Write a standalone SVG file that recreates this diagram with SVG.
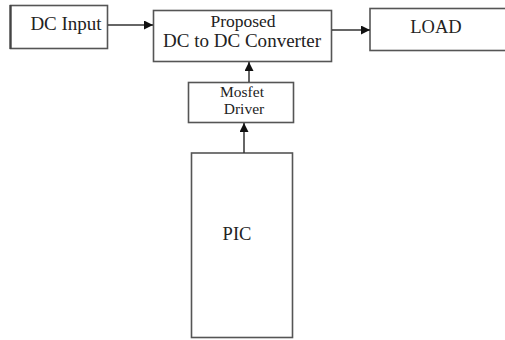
<svg xmlns="http://www.w3.org/2000/svg" width="505" height="340" viewBox="0 0 505 340">
<style>
.box{fill:#fff;stroke:#555;stroke-width:1.6}
.t{font-family:"Liberation Serif","Times New Roman",serif;fill:#222;text-anchor:middle}
.c{stroke:#333;stroke-width:1.5;fill:none}
</style>
<defs>
<marker id="ah" viewBox="0 0 10 10" refX="10" refY="5" markerWidth="9" markerHeight="9" markerUnits="userSpaceOnUse" orient="auto">
<path d="M0,0 L10,5 L0,10 z" fill="#111"/>
</marker>
</defs>
<rect width="505" height="340" fill="#fff"/>
<g id="dc-input">
<rect class="box" x="10.5" y="5.5" width="97" height="43"/>
<line x1="10.5" y1="5" x2="10.5" y2="49" stroke="#444" stroke-width="2.2"/>
<text class="t" x="66" y="30" font-size="19">DC Input</text>
</g>
<g id="converter">
<rect class="box" x="153.5" y="10.5" width="178" height="51"/>
<text class="t" x="243" y="27" font-size="17.5">Proposed</text>
<text class="t" x="242" y="47" font-size="18" textLength="158" lengthAdjust="spacingAndGlyphs">DC to DC Converter</text>
</g>
<g id="load">
<rect class="box" x="370" y="8.5" width="140" height="42"/>
<text class="t" x="436" y="33" font-size="18.5">LOAD</text>
</g>
<g id="mosfet-driver">
<rect class="box" x="188.5" y="82.5" width="105" height="40"/>
<text class="t" x="242" y="97" font-size="15.5">Mosfet</text>
<text class="t" x="244" y="114" font-size="15.5">Driver</text>
</g>
<g id="pic">
<rect class="box" x="191.5" y="153" width="101" height="184.5"/>
<text class="t" x="237" y="240" font-size="18.5">PIC</text>
</g>
<g id="connectors">
<line class="c" x1="108" y1="25" x2="153" y2="25" marker-end="url(#ah)"/>
<line class="c" x1="332" y1="30" x2="370" y2="30" marker-end="url(#ah)"/>
<line class="c" x1="249" y1="82" x2="249" y2="62" marker-end="url(#ah)"/>
<line class="c" x1="244" y1="153" x2="244" y2="123" marker-end="url(#ah)"/>
</g>
</svg>
